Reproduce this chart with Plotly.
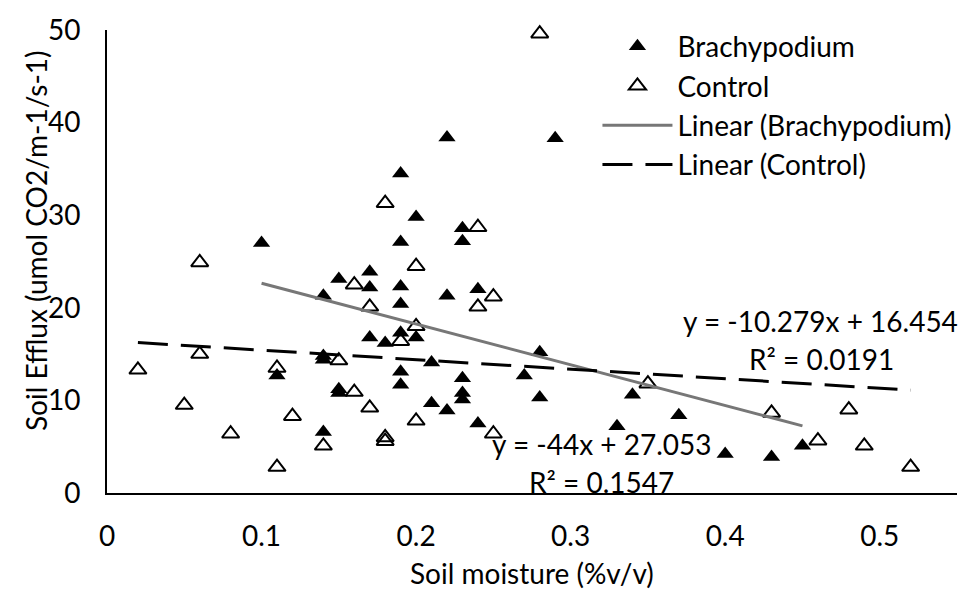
import plotly.graph_objects as go

# ---- data ----
brachy_moisture = [0.10, 0.11, 0.14, 0.14, 0.14, 0.14, 0.15, 0.15, 0.15, 0.17, 0.17, 0.17,
                   0.18, 0.19, 0.19, 0.19, 0.19, 0.19, 0.19, 0.19, 0.20, 0.20, 0.21, 0.21,
                   0.22, 0.22, 0.22, 0.23, 0.23, 0.23, 0.23, 0.23, 0.24, 0.24, 0.27, 0.28,
                   0.28, 0.29, 0.33, 0.34, 0.37, 0.40, 0.43, 0.45]
brachy_efflux = [27.0, 12.7, 21.3, 14.8, 14.4, 6.6, 23.1, 11.2, 10.8, 23.9, 22.2, 16.8,
                 16.2, 34.5, 27.1, 22.3, 20.4, 17.3, 13.1, 11.7, 29.8, 16.8, 14.1, 9.7,
                 38.4, 21.3, 8.9, 28.6, 27.2, 12.4, 10.8, 10.1, 22.0, 7.5, 12.7, 15.2,
                 10.3, 38.3, 7.2, 10.6, 8.4, 4.2, 3.9, 5.1]

control_moisture = [0.02, 0.05, 0.06, 0.06, 0.08, 0.11, 0.11, 0.12, 0.14, 0.15, 0.16, 0.16,
                    0.17, 0.17, 0.18, 0.18, 0.18, 0.19, 0.20, 0.20, 0.20, 0.24, 0.24, 0.25,
                    0.25, 0.28, 0.35, 0.43, 0.46, 0.48, 0.49, 0.52]
control_efflux = [13.3, 9.5, 24.9, 15.0, 6.4, 13.5, 2.8, 8.3, 5.1, 14.3, 22.5, 10.9,
                  20.1, 9.2, 31.3, 6.0, 5.6, 16.4, 24.5, 18.0, 7.8, 28.7, 20.1, 21.2,
                  6.4, 49.6, 11.8, 8.65, 5.65, 9.0, 5.1, 2.8]

# Excel linear trendline parameters (from the chart labels)
brachy_slope, brachy_intercept, brachy_r2 = -44, 27.053, 0.1547
control_slope, control_intercept, control_r2 = -10.279, 16.454, 0.0191

x_tick_vals = [0, 0.1, 0.2, 0.3, 0.4, 0.5]
x_tick_text = ["0", "0.1", "0.2", "0.3", "0.4", "0.5"]
y_tick_vals = [0, 10, 20, 30, 40, 50]
y_tick_text = ["0", "10", "20", "30", "40", "50"]

FONT = "Lato"
FS = 28

fig = go.Figure()

fig.add_trace(go.Scatter(
    x=brachy_moisture, y=brachy_efflux, mode="markers", name="Brachypodium",
    marker=dict(symbol="triangle-up", size=15, color="black",
                line=dict(width=0)),
    cliponaxis=False))

fig.add_trace(go.Scatter(
    x=control_moisture, y=control_efflux, mode="markers", name="Control",
    marker=dict(symbol="triangle-up-open", size=15, color="black",
                line=dict(width=2, color="black")),
    cliponaxis=False))

bx = [min(brachy_moisture), max(brachy_moisture)]
fig.add_trace(go.Scatter(
    x=bx, y=[brachy_slope * v + brachy_intercept for v in bx], mode="lines",
    name="Linear (Brachypodium)", line=dict(color="#777777", width=3)))

cx = [min(control_moisture), max(control_moisture)]
fig.add_trace(go.Scatter(
    x=cx, y=[control_slope * v + control_intercept for v in cx], mode="lines",
    name="Linear (Control)", line=dict(color="black", width=3, dash="30px,13px")))

annotations = [
    dict(x=0.3202, y=5.33, xref="x", yref="y",
         text=f"y = {brachy_slope:g}x + {brachy_intercept:g}"),
    dict(x=0.3200, y=1.23, xref="x", yref="y", text=f"R² = {brachy_r2:g}"),
    dict(x=0.4615, y=18.6, xref="x", yref="y",
         text=f"y = {control_slope:g}x + {control_intercept:g}"),
    dict(x=0.4620, y=14.5, xref="x", yref="y", text=f"R² = {control_r2:g}"),
    dict(x=0.5, y=-0.1733, xref="paper", yref="paper", text="Soil moisture (%v/v)"),
    dict(x=-0.0827, y=0.5457, xref="paper", yref="paper",
         text="Soil Efflux (umol CO2/m-1/s-1)", textangle=-90),
]
for a in annotations:
    a.update(showarrow=False, xanchor="center", yanchor="middle",
             font=dict(family=FONT, size=FS, color="black"))

fig.update_layout(
    width=976, height=590, autosize=False,
    margin=dict(l=107, r=19, t=22, b=97, pad=0),
    paper_bgcolor="white", plot_bgcolor="white",
    font=dict(family=FONT, size=FS, color="black"),
    showlegend=True,
    legend=dict(x=0.577, y=1.018, xanchor="left", yanchor="top",
                bgcolor="rgba(0,0,0,0)", itemwidth=70, tracegroupgap=0,
                font=dict(family=FONT, size=FS, color="black")),
    annotations=annotations,
    xaxis=dict(range=[0, 0.55], tickvals=x_tick_vals, ticktext=x_tick_text,
               showgrid=False, zeroline=False, showline=True, linecolor="black",
               linewidth=2, ticks="", ticklabelstandoff=17,
               tickfont=dict(family=FONT, size=FS, color="black")),
    yaxis=dict(range=[0, 50], tickvals=y_tick_vals, ticktext=y_tick_text,
               showgrid=False, zeroline=False, showline=True, linecolor="black",
               linewidth=2, ticks="", ticklabelstandoff=19,
               tickfont=dict(family=FONT, size=FS, color="black")),
)

fig.write_html("out.html")
